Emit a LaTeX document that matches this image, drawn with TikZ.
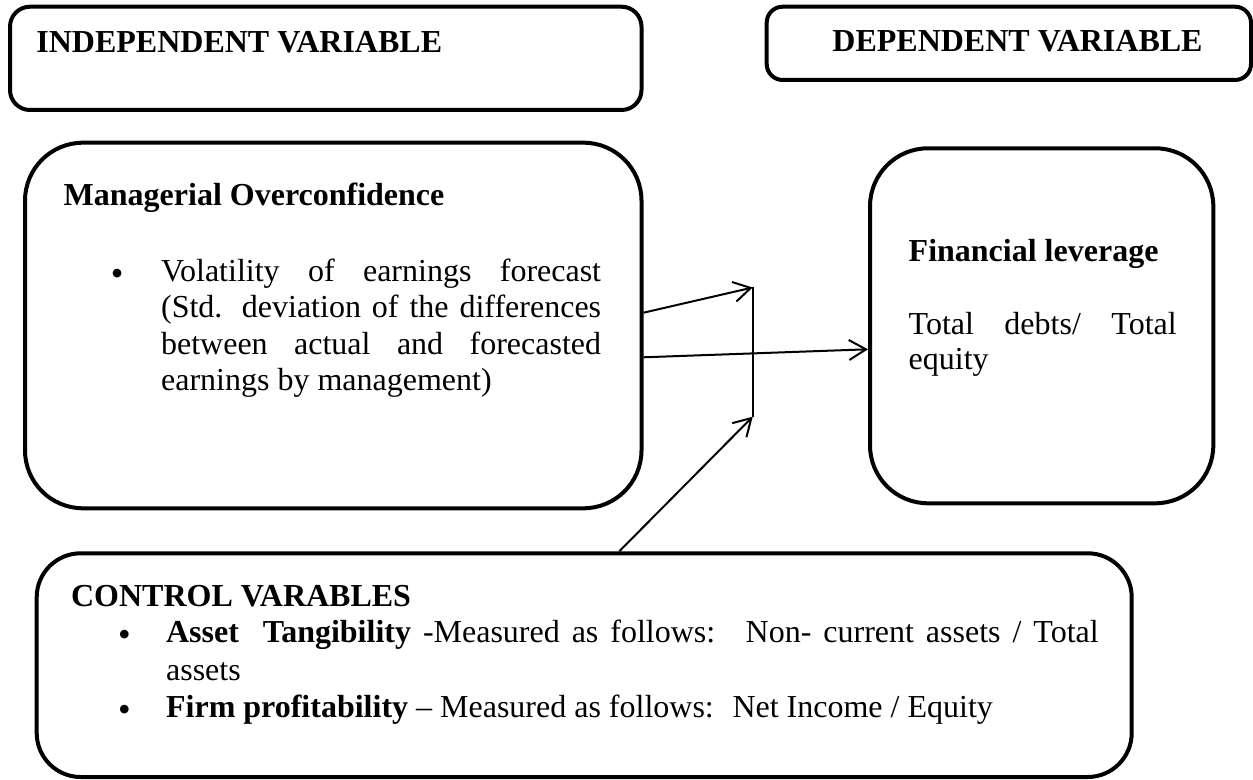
\documentclass[tikz,border=0pt]{standalone}
\usepackage{fontspec}
\setmainfont{Liberation Serif}
\usetikzlibrary{arrows.meta,calc}
\newcommand{\itemdot}{{\fontsize{18pt}{0pt}\selectfont\raisebox{-2pt}{\textbullet}}}
\begin{document}
\begin{tikzpicture}[x=0.5pt,y=-0.5pt,
  frame/.style={draw,line width=2pt,rectangle,inner sep=0pt},
  txt/.style={anchor=base west,inner sep=0pt,font=\fontsize{16pt}{18pt}\selectfont},
  para/.style={txt,align=justify,
    execute at begin node={\tolerance=10000\hyphenpenalty=10000\exhyphenpenalty=10000}},
  link/.style={line width=1pt,-{Straight Barb[length=8.5pt,width=10pt]}}]
\useasboundingbox (0,0) rectangle (1253,780);

% boxes
\node[frame,rounded corners=10pt,minimum width=315.75pt,minimum height=51.65pt] (indep) at (325.75,58.35) {};
\node[frame,rounded corners=8pt,minimum width=242.15pt,minimum height=36.65pt] (dep) at (1008.85,43.35) {};
\node[frame,rounded corners=29pt,minimum width=308.25pt,minimum height=182.8pt] (mo) at (333.25,325.5) {};
\node[frame,rounded corners=29pt,minimum width=171.65pt,minimum height=177.5pt] (fl) at (1041.65,325.8) {};
\node[frame,rounded corners=22pt,minimum width=547.5pt,minimum height=111.85pt] (ctrl) at (584.2,665.15) {};

% headings
\node[txt] (indepT) at (36,53) {\textbf{INDEPENDENT VARIABLE}};
\node[txt] (depT) at (832,52) {\textbf{DEPENDENT VARIABLE}};
\node[txt] (moT) at (63.3,206) {\textbf{Managerial Overconfidence}};
\node[txt] (flT) at (908.3,262) {\textbf{Financial leverage}};
\node[txt] (ctrlT) at (70.7,606) {\textbf{CONTROL VARABLES}};

% bodies
\node[para,text width=220pt,font=\fontsize{16pt}{18.1pt}\selectfont] (moB) at (160.7,281.7)
  {\noindent\llap{\itemdot\hspace{18.85pt}}Volatility of earnings forecast\linebreak
   (Std. deviation of the differences\linebreak
   between actual and forecasted\linebreak
   earnings by management)};
\node[para,text width=134pt,font=\fontsize{16pt}{17.5pt}\selectfont] (flB) at (908.3,335)
  {Total debts/ Total\linebreak equity};
\node[para,text width=466.3pt,font=\fontsize{16pt}{18.75pt}\selectfont] (ctrlB) at (165.7,642.7)
  {\noindent\llap{\itemdot\hspace{17.7pt}}\textbf{Asset~ Tangibility} -Measured as follows:~ Non- current assets / Total\linebreak
   assets\par
   \noindent\llap{\itemdot\hspace{17.7pt}}\textbf{Firm profitability} -- Measured as follows:~ Net Income / Equity};

% junction bar between the two relations
\coordinate (jtop) at (752.7,287.5);
\coordinate (jbot) at (752.7,416.7);
\draw[line width=1pt] (jtop) -- (jbot);

% connectors
\draw[link] ($(mo.east)+(0,-12.8)$) -- (jtop);
\draw[link] ($(mo.east)+(0,31.8)$) -- ($(fl.west)+(0,23.5)$);
\draw[link] ($(ctrl.north)+(35.1,0)$) -- (jbot);
\end{tikzpicture}
\end{document}
